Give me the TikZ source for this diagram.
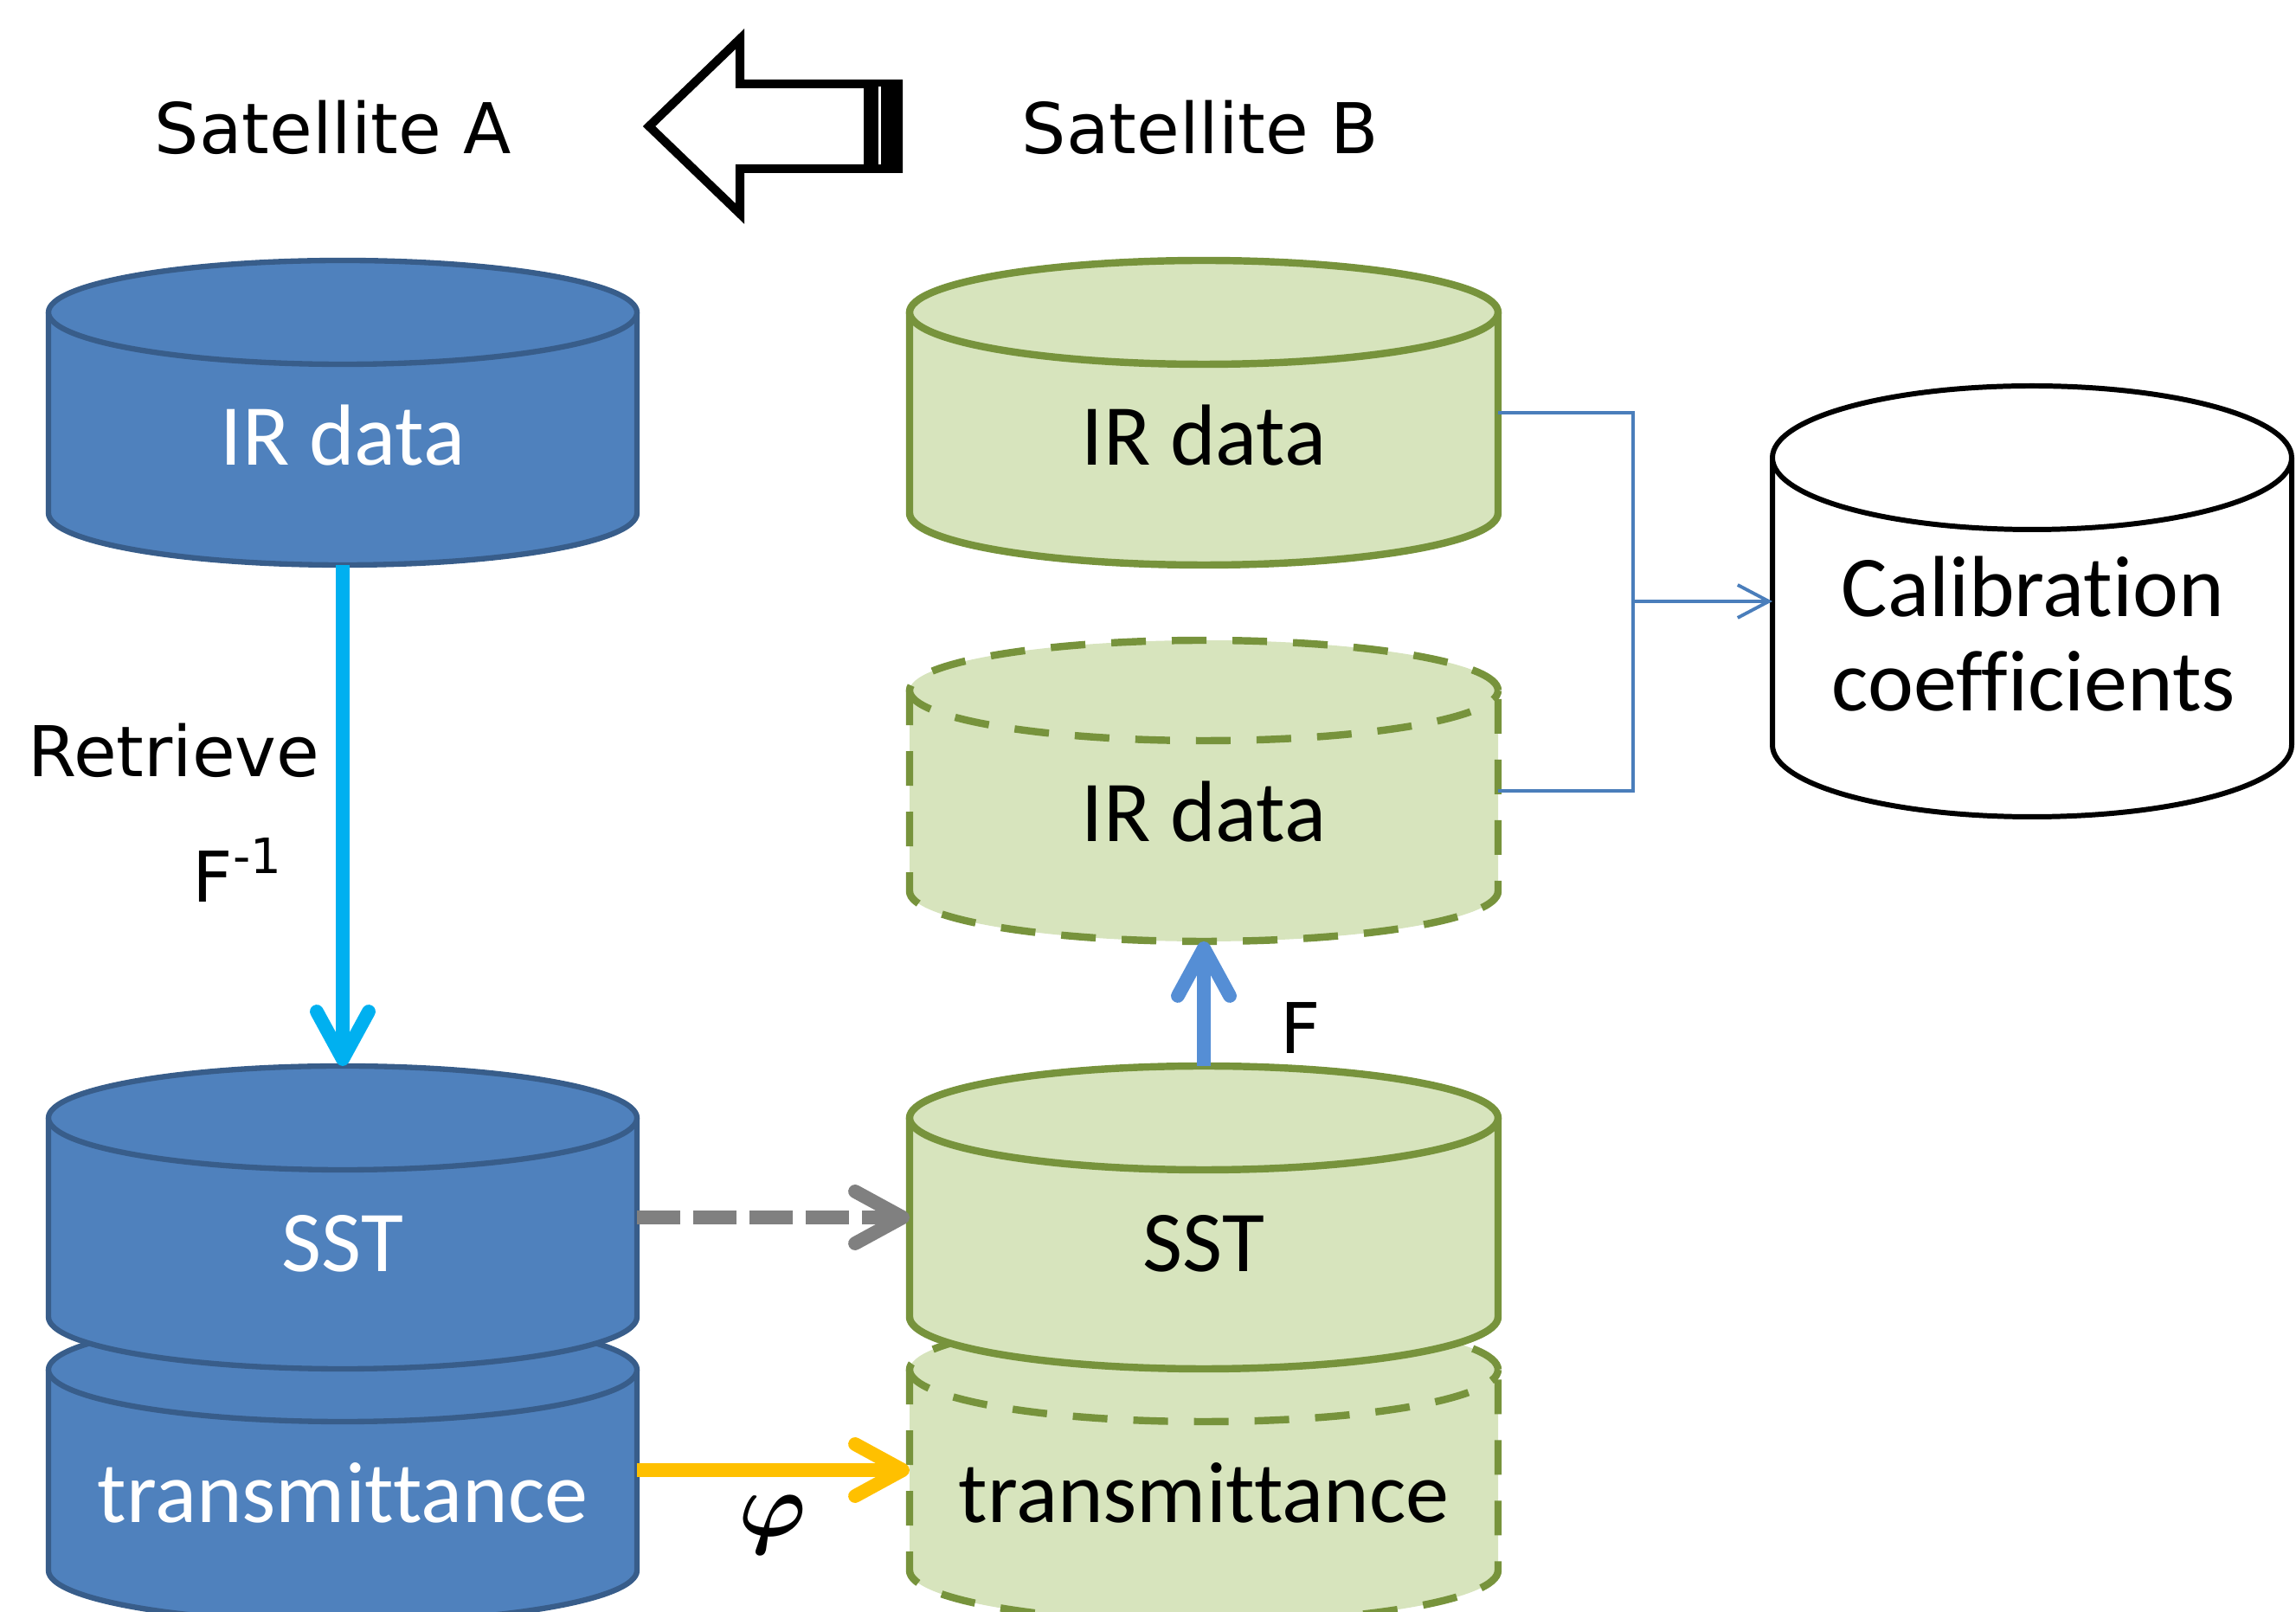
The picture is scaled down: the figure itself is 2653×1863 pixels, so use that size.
\RequirePackage{fix-cm}
\documentclass[tikz,border=0pt]{standalone}
\usepackage{bm}
\usepackage{fontspec}
\setmainfont[Ligatures=NoCommon]{Carlito}
\newfontfamily\verd{DejaVu Sans}
\usetikzlibrary{arrows.meta}
\definecolor{cylblue}{HTML}{4F81BD}
\definecolor{cylblueD}{HTML}{385D8A}
\definecolor{cylgreen}{HTML}{D7E4BD}
\definecolor{cylgreenD}{HTML}{77933C}
\definecolor{cyanarr}{HTML}{00B0F0}
\definecolor{farr}{HTML}{558ED5}
\definecolor{greyarr}{HTML}{808080}
\definecolor{yelarr}{HTML}{FFC000}
\definecolor{thinblue}{HTML}{4A7EBB}
\tikzset{
  blueC/.style={fill=cylblue, draw=cylblueD, line width=1.8pt},
  greenC/.style={fill=cylgreen, draw=cylgreenD, line width=2.4pt},
  greenD/.style={greenC, dash pattern=on 0.4cm off 0.3cm},
  calC/.style={fill=white, draw=black, line width=1.7pt},
  cylbox/.style={rectangle, inner sep=0pt, outer sep=0pt, draw=none},
  cyltxt/.style={font=\fontsize{28.5}{30}\selectfont, inner sep=0pt, anchor=base},
  lbltxt/.style={font=\verd\fontsize{23}{26}\selectfont, inner sep=0pt, anchor=base},
  bigarr/.style={line width=4.5pt, -{Straight Barb[length=5.5mm,width=6mm,round]}},
  thinarr/.style={draw=thinblue, line width=1.1pt},
}
\newcommand\drawcyl[7]{%
  \path[#7, draw=none] (#2-#5,#3) -- (#2-#5,#4) arc[start angle=180,end angle=360,x radius=#5,y radius=#6] -- (#2+#5,#3) -- cycle;
  \path[#7, fill=none] (#2-#5,#3) -- (#2-#5,#4) arc[start angle=180,end angle=360,x radius=#5,y radius=#6] -- (#2+#5,#3);
  \path[#7] (#2,#3) ellipse[x radius=#5,y radius=#6];
  \node[cylbox, minimum width={2*#5*0.01cm}, minimum height={(#3-#4)*0.01cm}] (#1) at (#2,{(#3+#4)/2}) {};
  \coordinate (#1-top) at (#2,{#3+#6});
  \coordinate (#1-bot) at (#2,{#4-#6});
}
\begin{document}
\begin{tikzpicture}[x=0.01cm,y=0.01cm]
\useasboundingbox (0,0) rectangle (2653,1863);
\clip (0,0) rectangle (2653,1863);

% titles
\node[lbltxt] (satA) at (385,1685) {Satellite A};
\node[lbltxt] (satB) at (1387,1685) {Satellite B};

% big outline arrow
\draw[line width=2.85pt, miter limit=10] (750,1717) -- (855,1818) -- (855,1766) -- (1038,1766) -- (1038,1668) -- (855,1668) -- (855,1616) -- cycle;
\fill[black] (998,1663) rectangle (1043,1771);
\draw[white, line width=0.85pt] (1016.5,1763) -- (1016.5,1673);

% left column
\drawcyl{IRA}{396}{1502}{1270}{340}{60}{blueC}
\drawcyl{TrA}{396}{280}{48}{340}{60}{blueC}
\drawcyl{SSTA}{396}{571}{341}{340}{60}{blueC}

% right column
\drawcyl{IRB}{1391}{1502}{1270}{340}{60}{greenC}
\drawcyl{IRB2}{1391}{1065}{833}{340}{58}{greenD}
\drawcyl{TrB}{1391}{280}{48}{340}{60}{greenD}
\drawcyl{SSTB}{1391}{571}{341}{340}{60}{greenC}

% calibration
\drawcyl{CAL}{2348}{1334}{1002}{300}{83}{calC}

% texts in cylinders
\node[cyltxt, text=white] (tIRA) at (396,1325) {IR data};
\node[cyltxt, text=white] (tSSTA) at (396,393) {SST};
\node[cyltxt, text=white] (tTrA) at (396,103) {transmittance};
\node[cyltxt] (tIRB) at (1391,1325) {IR data};
\node[cyltxt] (tIRB2) at (1391,890) {IR data};
\node[cyltxt] (tSSTB) at (1391,393) {SST};
\node[cyltxt] (tTrB) at (1391,103) {transmittance};
\node[cyltxt] (tCal1) at (2349,1150) {Calibration};
\node[cyltxt] (tCal2) at (2350,1041) {coefficients};

% connectors
\draw[bigarr, cyanarr] (IRA-bot) -- (SSTA-top);
\draw[bigarr, farr] (SSTB-top) -- (IRB2-bot);
\draw[bigarr, greyarr, line cap=butt, dash pattern=on 0.5cm off 0.15cm] (SSTA.east) -- (SSTB.west);
\draw[bigarr, yelarr] (TrA.east) -- (TrB.west);

\coordinate (bj) at (1887,1168);
\draw[thinarr] (IRB.east) -| (bj) |- (IRB2.east);
\draw[thinarr, -{Straight Barb[length=3.6mm,width=3.8mm]}] (bj) -- (CAL.west);

% labels
\node[lbltxt] (lRet) at (201,965) {Retrieve};
\node[lbltxt] (lFinv) at (274,820) {F\raisebox{0.42em}{\fontsize{16}{16}\selectfont -1}};
\node[lbltxt] (lF) at (1503,645) {F};
\node[inner sep=0pt, font=\fontsize{30}{32}\selectfont] (lphi) at (893,101) {$\bm{\varphi}$};
\end{tikzpicture}
\end{document}
